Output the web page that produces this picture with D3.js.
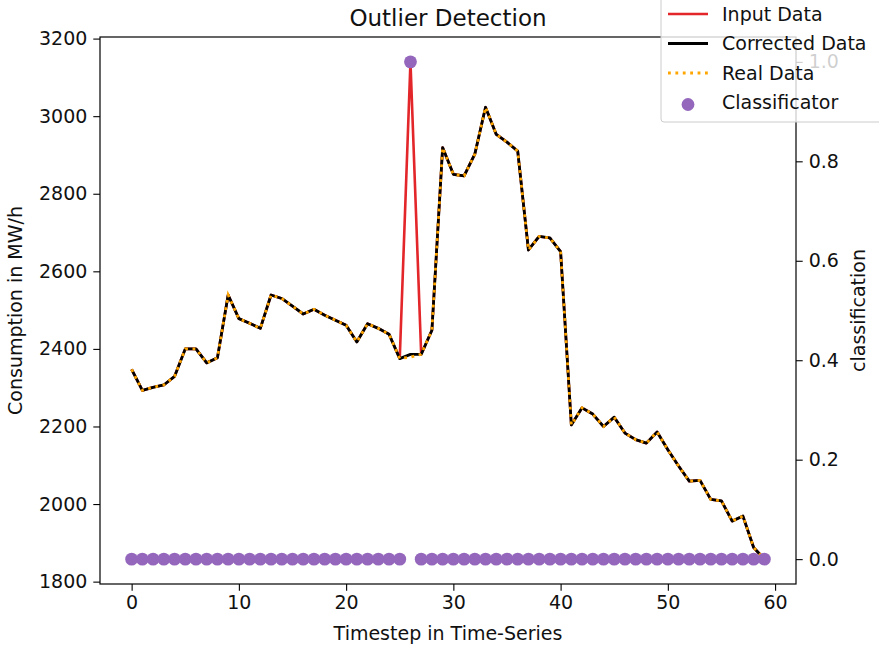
<!DOCTYPE html>
<html>
<head>
<meta charset="utf-8">
<script src="https://cdn.jsdelivr.net/npm/d3@7"></script>
<style>
  body { margin: 0; background: white; }
  svg text { font-family: "DejaVu Sans", sans-serif; fill: #111; }
  .axis text { font-size: 19px; }
  .axis line { stroke: #000; stroke-width: 1.1; }
</style>
</head>
<body>
<div class="chart"></div>
<script>
// data
const timesteps = d3.range(0, 60);
const realData = [
  2347, 2293, 2301, 2307, 2329, 2400, 2400, 2364, 2377, 2539,
  2478, 2466, 2453, 2539, 2530, 2510, 2490, 2502, 2487, 2474,
  2461, 2418, 2465, 2453, 2438, 2375, 2379, 2386, 2448, 2919,
  2850, 2846, 2902, 3023, 2953, 2933, 2910, 2655, 2690, 2686,
  2651, 2204, 2248, 2232, 2200, 2224, 2183, 2166, 2157, 2186,
  2140, 2098, 2059, 2061, 2012, 2008, 1956, 1969, 1888, 1858
];
// outlier at timestep 26
const outlierIndex = 26;
const inputData = realData.map((v, i) => i === outlierIndex ? 3140 : v);
const correctedData = realData.map((v, i) => i === outlierIndex ? 2386 : v);
const classification = timesteps.map(i => i === outlierIndex ? 1 : 0);

const xTicks = [0, 10, 20, 30, 40, 50, 60];
const yTicks = [1800, 2000, 2200, 2400, 2600, 2800, 3000, 3200];
const rTicks = [0, 0.2, 0.4, 0.6, 0.8, 1.0];

const legendItems = ["Input Data", "Corrected Data", "Real Data", "Classificator"];

// margin convention
const margin = {top: 37, right: 83, bottom: 64, left: 100};
const width = 879 - margin.left - margin.right,
      height = 648 - margin.top - margin.bottom;

const svg = d3.select(".chart").append("svg")
    .attr("width", 879)
    .attr("height", 648);

const g = svg.append("g")
    .attr("transform", `translate(${margin.left},${margin.top})`);

// matplotlib-ish 5% padding
function pad(ext) {
  const d = (ext[1] - ext[0]) * 0.05;
  return [ext[0] - d, ext[1] + d];
}

const x = d3.scaleLinear()
    .domain(pad(d3.extent(timesteps)))
    .range([0, width]);
const y = d3.scaleLinear()
    .domain(pad(d3.extent(inputData.concat(correctedData, realData))))
    .range([height, 0]);
const yR = d3.scaleLinear()
    .domain(pad([0, 1]))
    .range([height, 0]);

// axes
g.append("g")
    .attr("class", "axis x-axis")
    .attr("transform", `translate(0,${height})`)
    .call(d3.axisBottom(x).tickValues(xTicks).tickSize(6.7).tickPadding(5))
    .call(a => a.select(".domain").remove());

g.append("g")
    .attr("class", "axis y-axis")
    .call(d3.axisLeft(y).tickValues(yTicks).tickFormat(d3.format("d")).tickSize(6.7).tickPadding(6))
    .call(a => a.select(".domain").remove());

g.append("g")
    .attr("class", "axis r-axis")
    .attr("transform", `translate(${width},0)`)
    .call(d3.axisRight(yR).tickValues(rTicks).tickFormat(d3.format(".1f")).tickSize(6.7).tickPadding(6))
    .call(a => a.select(".domain").remove());

// lines
const line = data => d3.line()
    .x((d, i) => x(timesteps[i]))
    .y(d => y(d))(data);

g.append("path")
    .attr("d", line(inputData))
    .attr("fill", "none")
    .attr("stroke", "#e3262a")
    .attr("stroke-width", 2.6)
    .attr("stroke-linejoin", "round");

g.append("path")
    .attr("d", line(correctedData))
    .attr("fill", "none")
    .attr("stroke", "#000")
    .attr("stroke-width", 2.8)
    .attr("stroke-linejoin", "round");

g.append("path")
    .attr("d", line(realData))
    .attr("fill", "none")
    .attr("stroke", "orange")
    .attr("stroke-width", 2.8)
    .attr("stroke-dasharray", "2.8,4.6");

// classificator dots (twin axis)
g.selectAll(".dot")
  .data(classification)
  .join("circle")
    .attr("class", "dot")
    .attr("cx", (d, i) => x(timesteps[i]))
    .attr("cy", d => yR(d))
    .attr("r", 6.4)
    .attr("fill", "#9467bd");

// frame
g.append("rect")
    .attr("width", width)
    .attr("height", height)
    .attr("fill", "none")
    .attr("stroke", "#000")
    .attr("stroke-width", 1.2);

// titles
svg.append("text")
    .attr("x", margin.left + width / 2)
    .attr("y", 26)
    .attr("text-anchor", "middle")
    .style("font-size", "23px")
    .text("Outlier Detection");

svg.append("text")
    .attr("x", margin.left + width / 2)
    .attr("y", 640)
    .attr("text-anchor", "middle")
    .style("font-size", "19px")
    .text("Timestep in Time-Series");

svg.append("text")
    .attr("transform", `translate(22,${margin.top + height / 2}) rotate(-90)`)
    .attr("text-anchor", "middle")
    .style("font-size", "19px")
    .text("Consumption in MW/h");

svg.append("text")
    .attr("transform", `translate(865,${margin.top + height / 2}) rotate(-90)`)
    .attr("text-anchor", "middle")
    .style("font-size", "19px")
    .text("classification");

// legend (semi-transparent, covers the top of the right axis like the original)
const legend = svg.append("g")
    .attr("transform", "translate(661,0)");

legend.append("rect")
    .attr("x", 0)
    .attr("y", -6)
    .attr("width", 240)
    .attr("height", 128)
    .attr("rx", 3)
    .attr("fill", "white")
    .attr("fill-opacity", 0.8)
    .attr("stroke", "#ccc");

const item = legend.selectAll(".item")
  .data(legendItems)
  .join("g")
    .attr("class", "item")
    .attr("transform", (d, i) => `translate(0,${14 + i * 29.5})`);

item.append("text")
    .attr("x", 61)
    .attr("dy", "0.35em")
    .style("font-size", "19px")
    .text(d => d);

item.filter((d, i) => i === 0).append("line")
    .attr("x1", 7).attr("x2", 47)
    .attr("stroke", "#e3262a").attr("stroke-width", 2.6);
item.filter((d, i) => i === 1).append("line")
    .attr("x1", 7).attr("x2", 47)
    .attr("stroke", "#000").attr("stroke-width", 2.8);
item.filter((d, i) => i === 2).append("line")
    .attr("x1", 7).attr("x2", 47)
    .attr("stroke", "orange").attr("stroke-width", 2.8)
    .attr("stroke-dasharray", "2.8,4.6");
item.filter((d, i) => i === 3).append("circle")
    .attr("cx", 27).attr("cy", 2)
    .attr("r", 6.4)
    .attr("fill", "#9467bd");
</script>
</body>
</html>
